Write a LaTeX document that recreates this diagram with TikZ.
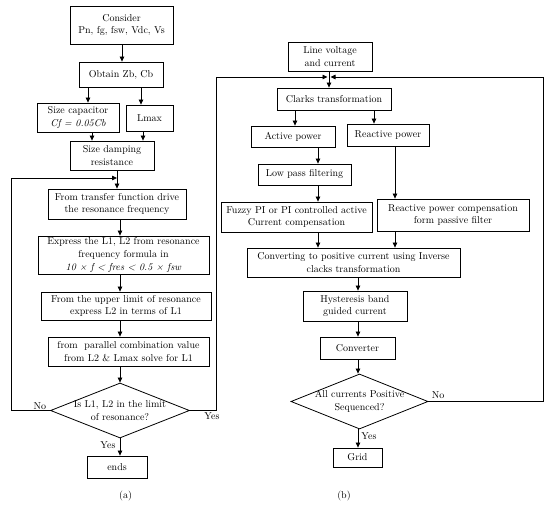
\documentclass[tikz,border=0pt]{standalone}
\usetikzlibrary{shapes.geometric,arrows.meta}
\begin{document}
\begin{tikzpicture}[x=1pt,y=-1pt,
 box/.style={draw, line width=0.8pt, align=center, inner sep=1pt, font=\fontsize{10}{12.8}\selectfont},
 sz/.style 2 args={minimum width=#1pt, minimum height=#2pt},
 dia/.style={draw, diamond, line width=0.8pt, inner sep=0pt},
 arr/.style={-{Triangle[length=5pt,width=4.5pt]}, line width=0.8pt},
 lbl/.style={font=\fontsize{10}{13}\selectfont, inner sep=0.5pt, align=center}]
\useasboundingbox (0,0) rectangle (550,505);

% ---------- (a) ----------
\node[box, sz={103}{38}] (c1) at (121.5,25) {Consider\\Pn, fg, fsw, Vdc, Vs};
\node[box, sz={84}{25}] (c2) at (121,74.5) {Obtain Zb, Cb};
\node[box, sz={82}{29}] (c3) at (78,117.5) {Size capacitor\\\textit{Cf = 0.05Cb}};
\node[box, sz={47}{26}] (c4) at (149.5,118) {Lmax};
\node[box, sz={84}{29}] (c5) at (112,155.5) {Size damping\\resistance};
\node[box, sz={138}{30}] (c6) at (117,204) {From transfer function drive\\the resonance frequency};
\node[box, sz={171}{38}] (c7) at (123.5,255) {Express the L1, L2 from resonance\\frequency formula in\\\textit{10 × f < fres < 0.5 × fsw}};
\node[box, sz={170}{28}] (c8) at (126,306) {From the upper limit of resonance\\express L2 in terms of L1};
\node[box, sz={161}{29}] (c9) at (128.5,351.5) {from\ \ parallel combination value\\from L2 \& Lmax solve for L1};
\node[dia, minimum width=139pt, minimum height=55pt] (d1) at (120,410.5) {};
\node[lbl] at (d1) {Is L1, L2 in the limit\\of resonance?};
\node[box, sz={60}{22}] (c10) at (117,467) {ends};

\coordinate (xa) at (120,0);
\coordinate (j1) at (117,178);
\draw[arr] (c1.south -| 122,0) -- (c2.north -| 122,0);
\draw[arr] (c2.south -| 88,0) -- (c3.north -| 88,0);
\draw[arr] (c2.south -| 141,0) -- (c4.north -| 141,0);
\draw[arr] (c3.south -| 92,0) -- (c5.north -| 92,0);
\draw[arr] (c4.south -| 143,0) -- (c5.north -| 143,0);
\draw[arr] (c5.south -| j1) -- (c6.north -| j1);
\draw[arr] (c6.south -| xa) -- (c7.north -| xa);
\draw[arr] (c7.south -| xa) -- (c8.north -| xa);
\draw[arr] (c8.south -| xa) -- (c9.north -| xa);
\draw[arr] (c9.south -| xa) -- (d1.north);
\draw[arr] (d1.south) -- (c10.north -| d1.south);
\draw[arr] (d1.west) -| (11,178) -- (j1);

\node[lbl, anchor=south] at (40,410) {No};
\node[lbl] at (212,416.5) {Yes};
\node[lbl] at (108,445) {Yes};
\node[lbl] at (125.5,496) {(a)};

% ---------- (b) ----------
\node[box, sz={84}{29}] (r1) at (330,56.5) {Line voltage\\and current};
\node[box, sz={114}{22}] (r2) at (334,99) {Clarks transformation};
\node[box, sz={84}{21}] (r3) at (293,136.5) {Active power};
\node[box, sz={82}{22}] (r4) at (388,135) {Reactive power};
\node[box, sz={93}{21}] (r5) at (304.5,174.5) {Low pass filtering};
\node[box, sz={151}{30}] (r6) at (296.5,217) {Fuzzy PI or PI controlled active\\Current compensation};
\node[box, sz={152}{32}] (r7) at (453,215) {Reactive power compensation\\form passive filter};
\node[box, sz={213}{29}] (r8) at (353.5,262.5) {Converting to positive current using Inverse\\clacks transformation};
\node[box, sz={104}{30}] (r9) at (355,306) {Hysteresis band\\guided current};
\node[box, sz={75}{22}] (r10) at (357.5,348) {Converter};
\node[dia, minimum width=137pt, minimum height=55pt] (d2) at (359.5,401.5) {};
\node[lbl] at (d2) {All currents Positive\\Sequenced?};
\node[box, sz={49}{19}] (r11) at (357.5,457.5) {Grid};

\coordinate (j2) at (329,77);
\coordinate (jl) at (327.5,77);
\coordinate (jr) at (330.5,77);
\coordinate (xb) at (358,0);
\draw[arr] (r1.south -| j2) -- (r2.north -| j2);
\draw[arr] (r2.south -| 295,0) -- (r3.north -| 295,0);
\draw[arr] (r2.south -| 374,0) -- (r4.north -| 374,0);
\draw[arr] (r3.south -| 318,0) -- (r5.north -| 318,0);
\draw[arr] (r5.south -| 318,0) -- (r6.north -| 318,0);
\draw[arr] (r4.south -| 395,0) -- (r7.north -| 395,0);
\draw[arr] (r6.south -| 318,0) -- (r8.north -| 318,0);
\draw[arr] (r7.south -| 395,0) -- (r8.north -| 395,0);
\draw[arr] (r8.south -| xb) -- (r9.north -| xb);
\draw[arr] (r9.south -| xb) -- (r10.north -| xb);
\draw[arr] (r10.south -| xb) -- (d2.north -| xb);
\draw[arr] (d2.south -| xb) -- (r11.north -| xb);

\draw[arr] (d1.east) -| (216,77) -- (jl);
\draw[arr] (d2.east) -| (543,77) -- (jr);

\node[lbl] at (438,395) {No};
\node[lbl] at (369,436.5) {Yes};
\node[lbl] at (344,496) {(b)};
\end{tikzpicture}
\end{document}
